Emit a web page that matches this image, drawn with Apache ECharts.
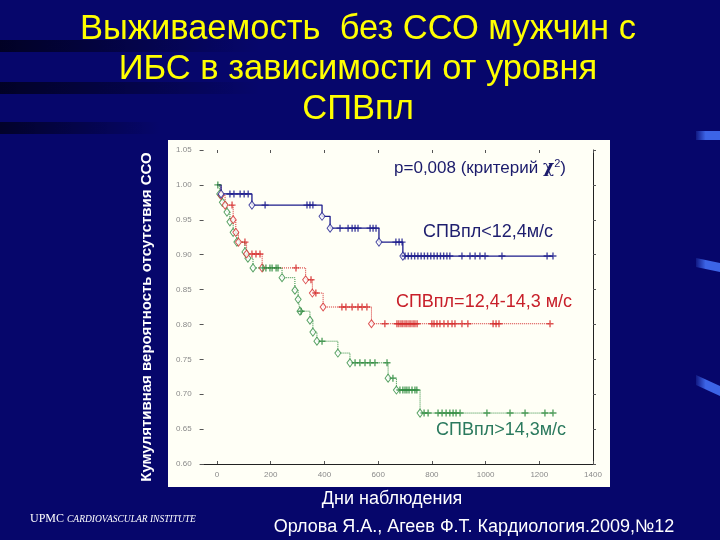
<!DOCTYPE html>
<html><head><meta charset="utf-8">
<script src="https://cdn.jsdelivr.net/npm/echarts@6/dist/echarts.min.js"></script>
<style>html,body{margin:0;padding:0;background:#06066b;}#c{width:720px;height:540px;}</style>
</head><body><div id="c"></div><script>
// ---- data ----
const xTicks = [0, 200, 400, 600, 800, 1000, 1200, 1400];

// СПВпл<12,4 м/с (blue)
const blueTimes = [0, 15, 130, 391, 421, 603, 692];
const blueSurv  = [1.0, 0.987, 0.971, 0.955, 0.938, 0.918, 0.898];
const blueEnd = 1251;
const blueCensor = [48, 63, 86, 101, 116, 179, 335, 346, 357, 458, 488, 503, 514, 525, 570, 581, 592,
  666, 678, 689, 700, 712, 724, 736, 748, 760, 772, 784, 796, 808, 820, 832, 844, 856, 867,
  912, 942, 961, 979, 998, 1061, 1229, 1251];

// СПВпл=12,4-14,3 м/с (red)
const redTimes = [0, 15, 30, 60, 70, 80, 110, 168, 330, 355, 395, 575];
const redSurv  = [1.0, 0.985, 0.971, 0.950, 0.932, 0.918, 0.901, 0.881, 0.864, 0.845, 0.825, 0.801];
const redEnd = 1240;
const redCensor = [56, 104, 130, 145, 160, 294, 350, 368, 465, 480, 503, 525, 540, 558, 625,
  670, 677, 685, 692, 700, 707, 715, 722, 730, 737, 745, 800, 808, 819, 830, 845, 860, 875, 886,
  912, 934, 1028, 1039, 1050, 1240];

// СПВпл>14,3 м/с (green)
const greenTimes = [0, 10, 20, 37, 48, 60, 74, 104, 115, 134, 242, 290, 302, 309, 346, 357, 372, 450, 495, 637, 668, 756];
const greenSurv  = [1.0, 0.987, 0.975, 0.961, 0.947, 0.932, 0.918, 0.904, 0.895, 0.881, 0.867, 0.849, 0.836, 0.819, 0.806, 0.789, 0.776, 0.759, 0.745, 0.723, 0.706, 0.673];
const greenEnd = 1251;
const greenCensor = [3, 171, 182, 197, 205, 220, 227, 313, 391, 514, 532, 551, 570, 588, 633, 655,
  681, 692, 700, 707, 715, 726, 737, 744, 771, 786, 823, 838, 853, 867, 879, 890, 905,
  1005, 1091, 1147, 1221, 1251];

// ---- helpers ----
function stepLine(times, surv, end) {
  const pts = times.map((t, i) => [t, surv[i]]);
  pts.push([end, surv[surv.length - 1]]);
  return pts;
}
function events(times, surv) {
  return times.slice(1).map((t, i) => [t, surv[i + 1]]);
}
function censored(times, surv, cens) {
  return cens.map(c => {
    let v = surv[0];
    for (let i = 0; i < times.length; i++) if (times[i] <= c) v = surv[i];
    return [c, v];
  });
}
const PLUS = 'path://M4,0H6V4H10V6H6V10H4V6H0V4H4Z';

function group(name, color, times, surv, end, cens, lineType, width) {
  return [
    { name, type: 'line', step: 'end', data: stepLine(times, surv, end), showSymbol: false,
      lineStyle: { color, width, type: lineType }, z: 3, silent: true, animation: false },
    { name, type: 'scatter', data: events(times, surv), symbol: 'diamond', symbolSize: [6, 8],
      itemStyle: { color: '#ffffff', borderColor: color, borderWidth: 1 }, z: 4, animation: false },
    { name, type: 'scatter', data: censored(times, surv, cens), symbol: PLUS, symbolSize: 7,
      itemStyle: { color }, z: 5, animation: false }
  ];
}

const chart = echarts.init(document.getElementById('c'), null, { renderer: 'canvas' });
const tickLbl = { color: '#8a8a8a', fontSize: 8, fontFamily: 'Liberation Sans' };
const band = a => new echarts.graphic.LinearGradient(0, 0, 1, 0, [{ offset: 0, color: 'rgba(0,0,20,' + a + ')' }, { offset: 1, color: 'rgba(0,0,20,0)' }]);
const stroke = new echarts.graphic.LinearGradient(0, 0, 1, 0, [{ offset: 0, color: 'rgba(60,100,230,0.2)' }, { offset: 0.4, color: 'rgba(60,100,230,1)' }, { offset: 1, color: 'rgba(60,100,230,1)' }]);

chart.setOption({
  backgroundColor: '#06066b',
  animation: false,
  grid: { left: 203.6, right: 127, top: 150, bottom: 76, containLabel: false },
  xAxis: [
    { type: 'value', min: -50, max: 1400, position: 'bottom',
      axisLine: { show: true, onZero: false, lineStyle: { color: '#222222', width: 1 } },
      axisTick: { show: true, inside: true, length: 3, customValues: xTicks, lineStyle: { color: '#555' } },
      axisLabel: Object.assign({ customValues: xTicks, margin: 7, formatter: v => String(v) }, tickLbl),
      splitLine: { show: false } },
    { type: 'value', min: -50, max: 1400, position: 'top',
      axisLine: { show: false, onZero: false },
      axisTick: { show: true, inside: true, length: 3, customValues: xTicks, lineStyle: { color: '#555' } },
      axisLabel: { show: false }, splitLine: { show: false } }
  ],
  yAxis: [
    { type: 'value', min: 0.6, max: 1.05, interval: 0.05, position: 'left',
      axisLine: { show: false, onZero: false },
      axisTick: { show: true, length: 4, lineStyle: { color: '#555' } },
      axisLabel: Object.assign({ margin: 12, formatter: v => v.toFixed(2) }, tickLbl),
      splitLine: { show: false } },
    { type: 'value', min: 0.6, max: 1.05, interval: 0.05, position: 'right',
      axisLine: { show: true, onZero: false, lineStyle: { color: '#222222', width: 1 } },
      axisTick: { show: true, length: 3, lineStyle: { color: '#555' } },
      axisLabel: { show: false }, splitLine: { show: false } }
  ],
  series: [].concat(
    group('green', '#2e8b3e', greenTimes, greenSurv, greenEnd, greenCensor, 'dotted', 1),
    group('red', '#d42a2a', redTimes, redSurv, redEnd, redCensor, 'dotted', 1),
    group('blue', '#1c1c8c', blueTimes, blueSurv, blueEnd, blueCensor, 'solid', 1.3)
  ),
  graphic: [
    // left dark bands
    { type: 'rect', z: -200, shape: { x: 0, y: 40, width: 260, height: 12 }, style: { fill: band(0.8) } },
    { type: 'rect', z: -200, shape: { x: 0, y: 82, width: 260, height: 12 }, style: { fill: band(0.8) } },
    { type: 'rect', z: -200, shape: { x: 0, y: 122, width: 160, height: 12 }, style: { fill: band(0.75) } },
    // right light-blue strokes
    { type: 'polygon', z: -150, shape: { points: [[696, 131], [720, 131], [720, 140], [696, 140]] }, style: { fill: stroke } },
    { type: 'polygon', z: -150, shape: { points: [[696, 258], [720, 263], [720, 272], [696, 267]] }, style: { fill: stroke } },
    { type: 'polygon', z: -150, shape: { points: [[696, 375], [720, 386], [720, 396], [696, 385]] }, style: { fill: stroke } },
    // white panel
    { type: 'rect', z: -100, shape: { x: 168, y: 140, width: 442, height: 347 }, style: { fill: '#fffff6' } },
    // title
    { type: 'text', z: 100, x: 358, y: 9,
      style: { text: 'Выживаемость  без ССО мужчин с\nИБС в зависимости от уровня\nСПВпл',
        fill: '#ffff00', fontSize: 34.5, lineHeight: 40, fontFamily: 'Liberation Sans', align: 'center', verticalAlign: 'top' } },
    // y axis title
    { type: 'text', z: 100, x: 147, y: 317, rotation: Math.PI / 2,
      style: { text: 'Кумулятивная вероятность отсутствия ССО', fill: '#ffffff', fontSize: 15, fontWeight: 'bold',
        fontFamily: 'Liberation Sans', align: 'center', verticalAlign: 'middle' } },
    // annotations
    { type: 'text', z: 100, x: 480, y: 168,
      style: { text: 'p=0,008 (критерий {g|χ}{s|2})', rich: { g: { fontSize: 17, fontWeight: 'bold', fill: '#1b1b6b', fontFamily: 'DejaVu Serif' }, s: { fontSize: 11, fill: '#1b1b6b', verticalAlign: 'top', padding: [0, 0, 8, 0] } },
        fill: '#1b1b6b', fontSize: 17, fontFamily: 'Liberation Sans', align: 'center', verticalAlign: 'middle' } },
    { type: 'text', z: 100, x: 488, y: 232,
      style: { text: 'СПВпл<12,4м/с', fill: '#1e1e6e', fontSize: 18, fontFamily: 'Liberation Sans', align: 'center', verticalAlign: 'middle' } },
    { type: 'text', z: 100, x: 484, y: 302,
      style: { text: 'СПВпл=12,4-14,3 м/с', fill: '#c8202a', fontSize: 18, fontFamily: 'Liberation Sans', align: 'center', verticalAlign: 'middle' } },
    { type: 'text', z: 100, x: 501, y: 430,
      style: { text: 'СПВпл>14,3м/с', fill: '#2b7a5e', fontSize: 18, fontFamily: 'Liberation Sans', align: 'center', verticalAlign: 'middle' } },
    // bottom texts
    { type: 'text', z: 100, x: 392, y: 499,
      style: { text: 'Дни наблюдения', fill: '#ffffff', fontSize: 18, fontFamily: 'Liberation Sans', align: 'center', verticalAlign: 'middle' } },
    { type: 'text', z: 100, x: 474, y: 527,
      style: { text: 'Орлова Я.А., Агеев Ф.Т. Кардиология.2009,№12', fill: '#ffffff', fontSize: 18, fontFamily: 'Liberation Sans', align: 'center', verticalAlign: 'middle' } },
    { type: 'text', z: 100, x: 30, y: 519,
      style: { text: 'UPMC {sc|CARDIOVASCULAR INSTITUTE}', rich: { sc: { fontSize: 9.5, fill: '#ffffff', fontFamily: 'Liberation Serif', fontStyle: 'italic' } },
        fill: '#ffffff', fontSize: 12, fontFamily: 'Liberation Serif', align: 'left', verticalAlign: 'middle' } }
  ]
});
</script></body></html>
